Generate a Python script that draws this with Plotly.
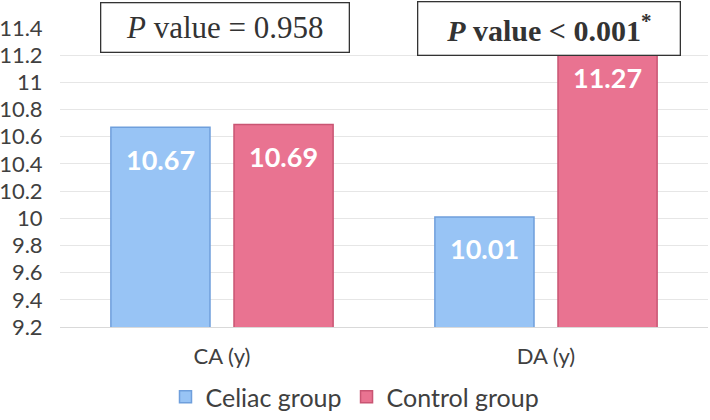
import plotly.graph_objects as go

categories = ["CA (y)", "DA (y)"]
celiac = [10.67, 10.01]
control = [10.69, 11.27]
series_names = ["Celiac group", "Control group"]
p_labels = ["<i>P</i> value = 0.958", "<b><i>P</i> value &lt; 0.001<sup>*</sup></b>"]
y_ticks = [9.2, 9.4, 9.6, 9.8, 10, 10.2, 10.4, 10.6, 10.8, 11, 11.2, 11.4]

bargap = 0.24
bargroupgap = 0.195

fig = go.Figure()
fig.add_trace(go.Bar(
    x=categories, y=celiac, name=series_names[0],
    marker=dict(color="#98c4f5", line=dict(color="#6f9fdc", width=1.5)),
))
fig.add_trace(go.Bar(
    x=categories, y=control, name=series_names[1],
    marker=dict(color="#e97391", line=dict(color="#c95573", width=1.5)),
))

off = (1 - bargap) / 4
for i, (a, b) in enumerate(zip(celiac, control)):
    for xv, yv in ((i - off, a), (i + off, b)):
        fig.add_annotation(
            x=xv, y=yv, xref="x", yref="y", text=f"<b>{yv:.2f}</b>",
            showarrow=False, yanchor="middle", yshift=-32,
            font=dict(family="Lato", size=27, color="white"),
        )

fig.add_annotation(
    x=0.255, y=1.003, xref="paper", yref="paper", text=p_labels[0],
    showarrow=False, xanchor="center", yanchor="middle",
    width=247, height=48, borderpad=0, bgcolor="white",
    bordercolor="#333333", borderwidth=1.3,
    font=dict(family="Liberation Serif", size=31, color="#333333"),
)
fig.add_annotation(
    x=0.754, y=0.997, xref="paper", yref="paper", text=p_labels[1],
    showarrow=False, xanchor="center", yanchor="middle",
    width=261, height=52, borderpad=0, bgcolor="white",
    bordercolor="#333333", borderwidth=1.3,
    font=dict(family="Liberation Serif", size=30, color="#333333"),
)

fig.update_layout(
    width=710, height=420,
    margin=dict(l=60, r=2, t=28, b=93, autoexpand=False),
    paper_bgcolor="white", plot_bgcolor="white",
    barmode="group", bargap=bargap, bargroupgap=bargroupgap,
    font=dict(family="Lato", color="#404040"),
    showlegend=True,
    legend=dict(
        orientation="h", xref="container", yref="container",
        x=0.5, xanchor="center", y=0.0, yanchor="bottom",
        font=dict(size=25, color="#404040"),
        itemwidth=30, tracegroupgap=0,
    ),
    xaxis=dict(
        type="category", range=[-0.5, 1.5], automargin=False,
        showline=True, linecolor="#d9d9d9", linewidth=1,
        ticks="outside", ticklen=10, tickcolor="rgba(0,0,0,0)",
        tickfont=dict(size=22, color="#404040"),
    ),
    yaxis=dict(
        range=[9.2, 11.4], tickvals=y_ticks, automargin=False,
        ticktext=[f"{v:g}" for v in y_ticks],
        showgrid=True, gridcolor="#e6e6e6", gridwidth=1,
        zeroline=False,
        ticks="outside", ticklen=12, tickcolor="rgba(0,0,0,0)",
        tickfont=dict(size=22, color="#404040"),
    ),
)

fig.write_html(
    "out.html",
    config={"displayModeBar": False},
    post_script="document.body.style.margin='0';document.body.style.padding='0';",
)
